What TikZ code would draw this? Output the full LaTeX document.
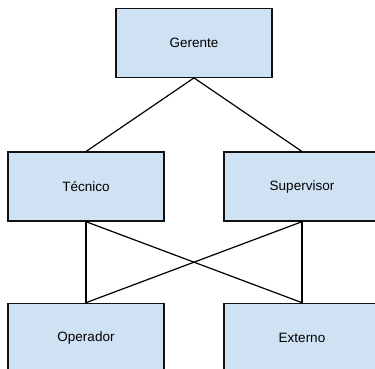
\documentclass[tikz,border=0pt]{standalone}
\usepackage{fontspec}
\setmainfont{Liberation Sans}
\definecolor{boxfill}{HTML}{CFE2F3}
\definecolor{boxline}{HTML}{111111}
\begin{document}
\begin{tikzpicture}[x=1pt,y=1pt,
  orgbox/.style={draw=boxline, fill=boxfill, line width=1.2pt, minimum width=156pt, minimum height=69pt, inner sep=0pt, font=\fontsize{13.5}{16}\selectfont, text=black},
  link/.style={draw=black, line width=1.2pt}]
\useasboundingbox (0,0) rectangle (375,369);
\clip (0,0) rectangle (375,369);
\fill[white] (0,0) rectangle (375,369);
\node[orgbox] (ger) at (194,326.2) {Gerente};
\node[orgbox] (tec) at (86,182.4) {Técnico};
\node[orgbox] (sup) at (302,182.4) {Supervisor};
\node[orgbox] (ope) at (86,31.2) {Operador};
\node[orgbox] (ext) at (302,31.2) {Externo};
\draw[link] (ger.south) -- (tec.north);
\draw[link] (ger.south) -- (sup.north);
\draw[link] (tec.south) -- (ope.north);
\draw[link] (tec.south) -- (ext.north);
\draw[link] (sup.south) -- (ope.north);
\draw[link] (sup.south) -- (ext.north);
\end{tikzpicture}
\end{document}
